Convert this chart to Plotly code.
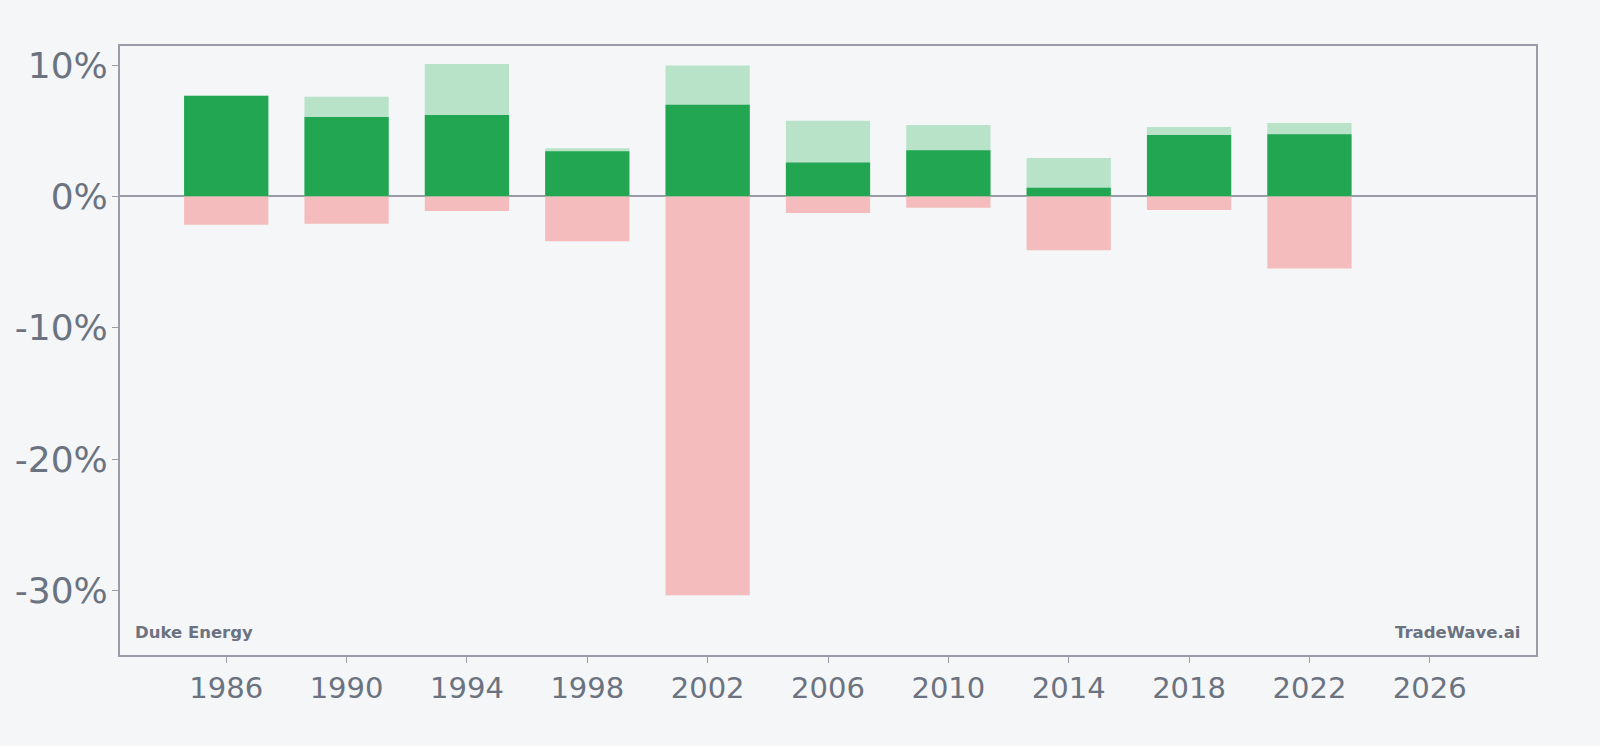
import plotly.graph_objects as go

years = [1986, 1990, 1994, 1998, 2002, 2006, 2010, 2014, 2018, 2022]
high_pct = [7.67, 7.59, 10.08, 3.67, 9.97, 5.77, 5.44, 2.92, 5.28, 5.59]
close_pct = [7.67, 6.05, 6.20, 3.44, 6.97, 2.59, 3.51, 0.67, 4.67, 4.74]
drawdown_pct = [-2.15, -2.08, -1.10, -3.41, -30.35, -1.26, -0.87, -4.10, -1.03, -5.49]
x_ticks = list(range(1986, 2027, 4))
y_ticks = [-30, -20, -10, 0, 10]

BG = "#f4f6f8"
AXIS = "#9a9ca8"
TXT = "#6b7280"
BAR_W = 2.8

fig = go.Figure()
fig.add_trace(go.Bar(x=years, y=high_pct, width=BAR_W, marker=dict(color="#b8e3c8", line=dict(width=0)), showlegend=False))
fig.add_trace(go.Bar(x=years, y=close_pct, width=BAR_W, marker=dict(color="#22a652", line=dict(width=0)), showlegend=False))
fig.add_trace(go.Bar(x=years, y=drawdown_pct, width=BAR_W, marker=dict(color="#f4bcbc", line=dict(width=0)), showlegend=False))

fig.update_layout(
    barmode="overlay",
    width=1600, height=746,
    paper_bgcolor=BG, plot_bgcolor=BG,
    margin=dict(l=120, r=64, t=46, b=91),
    font=dict(family="DejaVu Sans", color=TXT),
    xaxis=dict(range=[1982.47, 2029.53], tickvals=x_ticks, ticktext=[str(v) for v in x_ticks],
               showgrid=False, zeroline=False, showline=True, linecolor=AXIS, linewidth=2, mirror=True,
               ticks="outside", ticklen=6, tickcolor=AXIS, tickfont=dict(size=29, color=TXT)),
    yaxis=dict(range=[-34.9, 11.45], tickvals=y_ticks, ticktext=[f"{v}%" for v in y_ticks],
               showgrid=False, zeroline=True, zerolinecolor=AXIS, zerolinewidth=2,
               showline=True, linecolor=AXIS, linewidth=2, mirror=True,
               ticks="outside", ticklen=6, tickcolor=AXIS, ticklabelstandoff=-3,
               tickfont=dict(size=36, color=TXT)),
    annotations=[
        dict(text="<b>Duke Energy</b>", xref="paper", yref="paper", x=0.009, y=0.018,
             xanchor="left", yanchor="bottom", showarrow=False, font=dict(size=16.5, color=TXT)),
        dict(text="<b>TradeWave.ai</b>", xref="paper", yref="paper", x=0.99, y=0.018,
             xanchor="right", yanchor="bottom", showarrow=False, font=dict(size=16.5, color=TXT)),
    ],
)

fig.write_html("out.html")
